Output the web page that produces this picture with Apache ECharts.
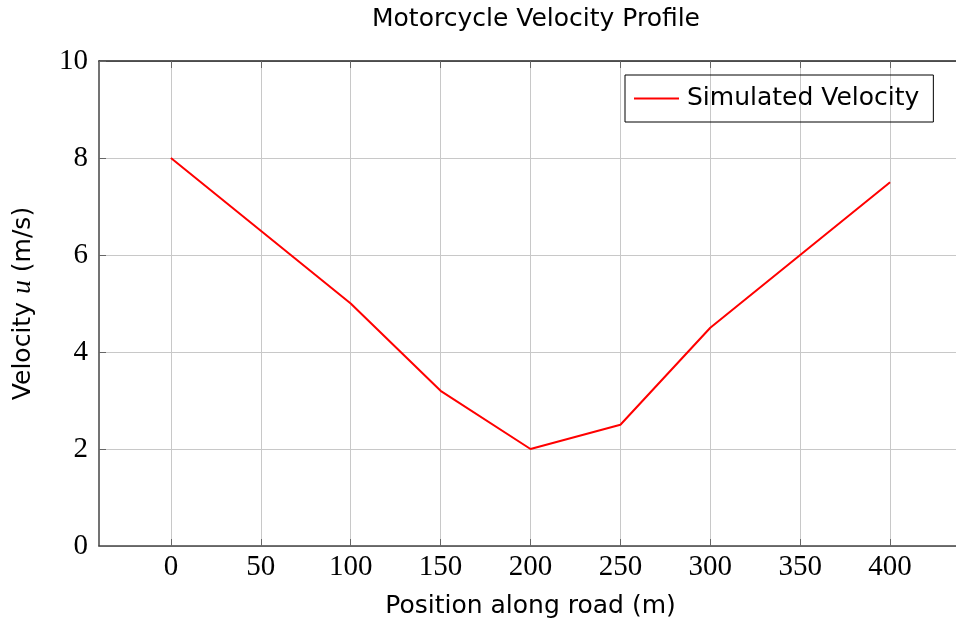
<!DOCTYPE html>
<html>
<head>
<meta charset="utf-8">
<script src="https://cdn.jsdelivr.net/npm/echarts@6/dist/echarts.min.js"></script>
<style>html,body{margin:0;padding:0;background:#fff}#c{width:956px;height:624px}</style>
</head>
<body>
<div id="c"></div>
<script>
const positions = [0, 50, 100, 150, 200, 250, 300, 350, 400];
const velocities = [8, 6.5, 5, 3.2, 2, 2.5, 4.5, 6, 7.5];
const xTicks = [0, 50, 100, 150, 200, 250, 300, 350, 400];
const yTicks = [0, 2, 4, 6, 8, 10];

const chart = echarts.init(document.getElementById('c'));
const serif = '"Liberation Serif", "DejaVu Serif", serif';
const sans = '"DejaVu Sans", "Liberation Sans", sans-serif';
chart.setOption({
  animation: false,
  backgroundColor: '#fff',
  title: {
    text: 'Motorcycle Velocity Profile',
    left: 531, top: 2, textAlign: 'center',
    textStyle: {fontFamily: sans, fontSize: 25, fontWeight: 'normal', color: '#000'}
  },
  legend: {
    left: 625, top: 75,
    orient: 'vertical',
    borderColor: '#000', borderWidth: 1, borderRadius: 0,
    padding: [11, 14, 11, 9],
    itemWidth: 45, itemHeight: 2, itemGap: 0,
    icon: 'rect',
    textStyle: {fontFamily: sans, fontSize: 25, color: '#000', padding: [0, 0, 0, 3]},
    data: ['Simulated Velocity']
  },
  grid: {left: 99, top: 61, width: 863, height: 485, containLabel: false, outerBoundsMode: 'none'},
  xAxis: [{
    type: 'value', min: -40, max: 440,
    position: 'bottom',
    customValues: xTicks,
    axisLine: {show: true, onZero: false, lineStyle: {color: '#444', width: 1.5}},
    axisTick: {show: true, inside: true, length: 7, customValues: xTicks, lineStyle: {color: '#666'}},
    axisLabel: {show: true, margin: 7, customValues: xTicks, fontFamily: serif, fontSize: 29, color: '#000'},
    splitLine: {show: true, lineStyle: {color: '#c8c8c8', width: 1}},
    name: 'Position along road (m)', nameLocation: 'middle', nameGap: 48,
    nameTextStyle: {fontFamily: sans, fontSize: 25, color: '#000'}
  }, {
    type: 'value', min: -40, max: 440,
    position: 'top',
    customValues: xTicks,
    axisLine: {show: true, onZero: false, lineStyle: {color: '#222', width: 1.5}},
    axisTick: {show: true, inside: true, length: 7, customValues: xTicks, lineStyle: {color: '#666'}},
    axisLabel: {show: false},
    splitLine: {show: false}
  }],
  yAxis: {
    type: 'value', min: 0, max: 10, interval: 2,
    axisLine: {show: true, onZero: false, lineStyle: {color: '#444', width: 1.5}},
    axisTick: {show: true, inside: true, length: 7, lineStyle: {color: '#666'}},
    axisLabel: {margin: 11, fontFamily: serif, fontSize: 29, color: '#000'},
    splitLine: {show: true, lineStyle: {color: '#c8c8c8', width: 1}},
    name: 'Velocity {i|u} (m/s)', nameLocation: 'middle', nameGap: 62, nameRotate: 90,
    nameTextStyle: {fontFamily: sans, fontSize: 25, color: '#000',
      rich: {i: {fontFamily: serif, fontStyle: 'italic', fontSize: 28, color: '#000'}}}
  },
  series: [{
    name: 'Simulated Velocity',
    type: 'line',
    data: positions.map((p, i) => [p, velocities[i]]),
    symbol: 'none',
    lineStyle: {color: '#ff0000', width: 2},
    itemStyle: {color: '#ff0000'}
  }]
});
</script>
</body>
</html>
